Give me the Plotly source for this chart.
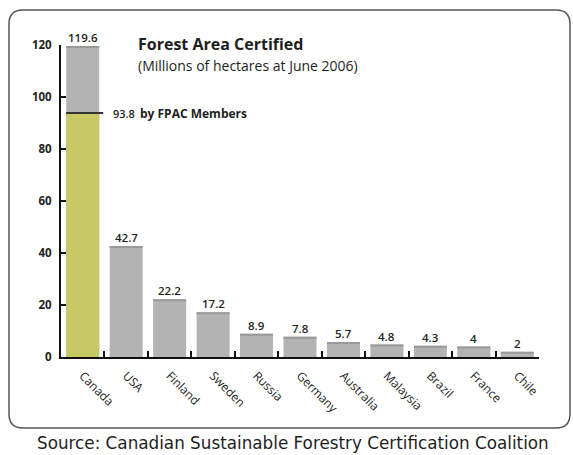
import plotly.graph_objects as go

countries = ["Canada", "USA", "Finland", "Sweden", "Russia", "Germany",
             "Australia", "Malaysia", "Brazil", "France", "Chile"]
values = [119.6, 42.7, 22.2, 17.2, 8.9, 7.8, 5.7, 4.8, 4.3, 4, 2]
value_labels = ["119.6", "42.7", "22.2", "17.2", "8.9", "7.8", "5.7", "4.8", "4.3", "4", "2"]
fpac_value = 93.8
fpac_label = "93.8"
y_ticks = [0, 20, 40, 60, 80, 100, 120]

W, H = 573, 455
L, R, T, B = 61, 34, 45, 98
PW, PH = W - L - R, H - T - B

def px(x):
    return (x - L) / PW

def py(y):
    return (H - B - y) / PH

GRAY = "#b3b3b3"
GREEN = "#c8c864"
FONT = "Open Sans, Liberation Sans, sans-serif"
TXT = "#1e1e1e"

fig = go.Figure()

fig.add_trace(go.Bar(x=countries, y=values, marker=dict(color=GRAY, line=dict(width=0)),
                     width=0.76, hoverinfo="x+y"))
fig.add_trace(go.Bar(x=[countries[0]], y=[fpac_value], marker=dict(color=GREEN, line=dict(width=0)),
                     width=0.76, hoverinfo="x+y"))

shapes = []
for i, v in enumerate(values):
    shapes.append(dict(type="line", xref="x", yref="y", x0=i - 0.38, x1=i + 0.38,
                       y0=v - 0.35, y1=v - 0.35, line=dict(color="#999999", width=2)))
shapes.append(dict(type="line", xref="x", yref="y", x0=-0.38, x1=0.47,
                   y0=fpac_value, y1=fpac_value, line=dict(color="#333333", width=2)))

x0, x1, y0, y1, r = px(9), px(570), py(428), py(10), 14
rx, ry = r / PW, r / PH
path = (f"M {x0+rx},{y1} L {x1-rx},{y1} Q {x1},{y1} {x1},{y1-ry} "
        f"L {x1},{y0+ry} Q {x1},{y0} {x1-rx},{y0} L {x0+rx},{y0} "
        f"Q {x0},{y0} {x0},{y0+ry} L {x0},{y1-ry} Q {x0},{y1} {x0+rx},{y1} Z")
shapes.append(dict(type="path", xref="paper", yref="paper", path=path,
                   line=dict(color="#555555", width=1.5), layer="below"))

annotations = []
for c, v, t in zip(countries, values, value_labels):
    annotations.append(dict(x=c, y=v, xref="x", yref="y", text=t, showarrow=False,
                            yanchor="bottom", yshift=-1,
                            font=dict(family=FONT, size=11.5, color=TXT, weight=600)))
annotations.append(dict(x=px(111), y=fpac_value, xref="paper", yref="y", text=fpac_label,
                        showarrow=False, xanchor="left", yanchor="middle",
                        font=dict(family=FONT, size=11, color=TXT, weight=600)))
annotations.append(dict(x=px(138), y=fpac_value, xref="paper", yref="y", text="<b>by FPAC Members</b>",
                        showarrow=False, xanchor="left", yanchor="middle",
                        font=dict(family=FONT, size=12, color=TXT)))
annotations.append(dict(x=px(136), y=py(44), xref="paper", yref="paper",
                        text="<b>Forest Area Certified</b>", showarrow=False,
                        xanchor="left", yanchor="middle",
                        font=dict(family=FONT, size=16, color=TXT)))
annotations.append(dict(x=px(136), y=py(65), xref="paper", yref="paper",
                        text="(Millions of hectares at June 2006)", showarrow=False,
                        xanchor="left", yanchor="middle",
                        font=dict(family=FONT, size=14, color=TXT)))
annotations.append(dict(x=px(293), y=py(443), xref="paper", yref="paper",
                        text="Source: Canadian Sustainable Forestry Certification Coalition",
                        showarrow=False, xanchor="center", yanchor="middle",
                        font=dict(family="DejaVu Sans, sans-serif", size=16.8, color=TXT)))

fig.update_layout(
    width=W, height=H,
    margin=dict(l=L, r=R, t=T, b=B, pad=0),
    paper_bgcolor="white", plot_bgcolor="white",
    barmode="overlay", showlegend=False, bargap=0.24,
    shapes=shapes, annotations=annotations,
    xaxis=dict(type="category", showline=True, linecolor="#111111", linewidth=2,
               ticks="inside", ticklen=6, tickwidth=1.5, tickcolor="#111111",
               tickson="boundaries", tickangle=45, showgrid=False, zeroline=False,
               ticklabelstandoff=5,
               tickfont=dict(family=FONT, size=12, color=TXT), range=[-0.5, 10.5]),
    yaxis=dict(range=[0, 120], tickvals=y_ticks, showline=True, linecolor="#111111", linewidth=2,
               ticks="inside", ticklen=5, tickwidth=1.5, tickcolor="#111111",
               showgrid=False, zeroline=False, ticklabelstandoff=5,
               tickfont=dict(family=FONT, size=11.5, color=TXT, weight=700)),
)

fig.write_html("out.html")
